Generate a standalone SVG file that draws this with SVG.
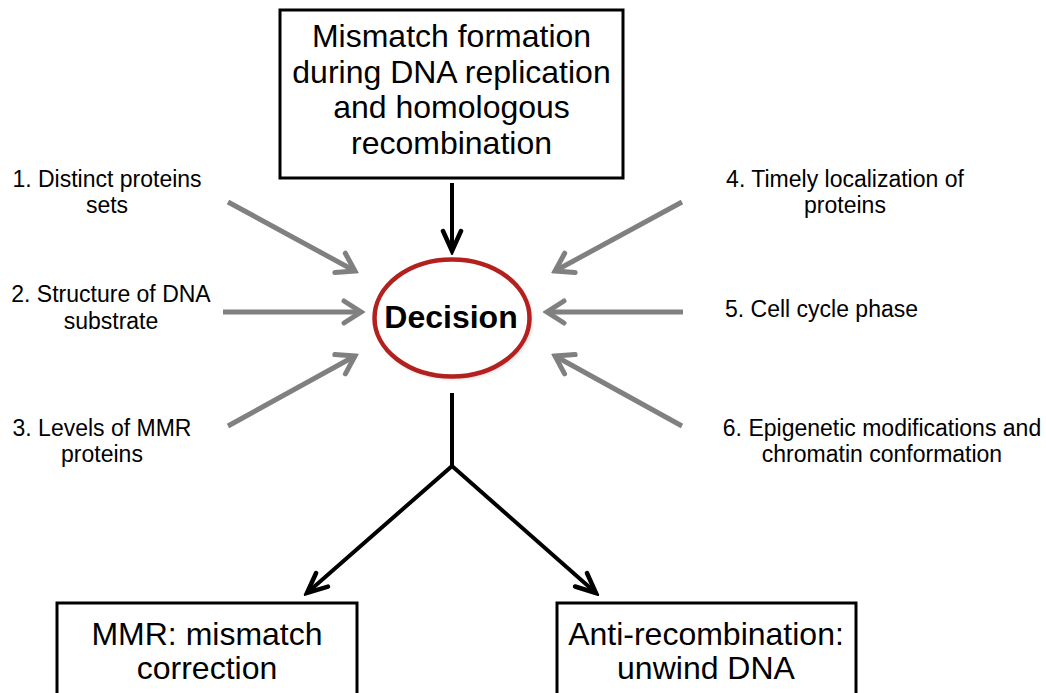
<svg xmlns="http://www.w3.org/2000/svg" width="1046" height="693" viewBox="0 0 1046 693">
<style>
.box{fill:#fff;stroke:#000;stroke-width:3}
.bt{font-family:"Liberation Sans",Arial,sans-serif;font-size:32px;fill:#000;text-anchor:middle}
.lbl{font-family:"Liberation Sans",Arial,sans-serif;font-size:23px;fill:#000;text-anchor:middle}
.blk{stroke:#000;stroke-width:4;fill:none}
.gry{stroke:#808080;stroke-width:5;fill:none}
</style>
<defs>
<marker id="ab" markerUnits="userSpaceOnUse" viewBox="-24 -14 28 28" markerWidth="28" markerHeight="28" refX="0" refY="0" orient="auto">
<path d="M-20,-9 L0,0 L-20,9" fill="none" stroke="#000" stroke-width="4.5" stroke-linejoin="miter" stroke-linecap="round"/>
</marker>
<marker id="ag" markerUnits="userSpaceOnUse" viewBox="-24 -16 28 32" markerWidth="28" markerHeight="32" refX="0" refY="0" orient="auto">
<path d="M-17,-11 L0,0 L-17,11" fill="none" stroke="#808080" stroke-width="5" stroke-linejoin="miter" stroke-linecap="round"/>
</marker>
<filter id="sh" x="-20%" y="-20%" width="140%" height="140%">
<feGaussianBlur stdDeviation="2"/>
</filter>
</defs>
<g id="connectors">
<line class="blk" x1="452" y1="183" x2="452" y2="251" marker-end="url(#ab)"/>
<polyline class="blk" points="452,393 452,466 307,593" marker-end="url(#ab)"/>
<polyline class="blk" points="452,466 596,593" marker-end="url(#ab)"/>
<line class="gry" x1="228" y1="202" x2="355" y2="271" marker-end="url(#ag)"/>
<line class="gry" x1="223" y1="312" x2="361" y2="312" marker-end="url(#ag)"/>
<line class="gry" x1="228" y1="426" x2="355" y2="356" marker-end="url(#ag)"/>
<line class="gry" x1="682" y1="202" x2="555" y2="271" marker-end="url(#ag)"/>
<line class="gry" x1="683" y1="312" x2="547" y2="312" marker-end="url(#ag)"/>
<line class="gry" x1="682" y1="426" x2="555" y2="356" marker-end="url(#ag)"/>
</g>
<g id="top">
<rect class="box" x="280" y="10" width="343" height="168"/>
<text class="bt" x="451.5" y="47">Mismatch formation</text>
<text class="bt" x="451.5" y="82.5">during DNA replication</text>
<text class="bt" x="451.5" y="118">and homologous</text>
<text class="bt" x="451.5" y="153.5">recombination</text>
</g>
<g id="decision">
<ellipse cx="454" cy="320" rx="76" ry="57" fill="none" stroke="#999" stroke-width="3" filter="url(#sh)" opacity="0.6"/>
<ellipse cx="452" cy="318" rx="77.5" ry="58.5" fill="#fff" stroke="#b3211f" stroke-width="4.5"/>
<text x="451" y="328" font-family="'Liberation Sans',Arial,sans-serif" font-size="32" font-weight="bold" text-anchor="middle">Decision</text>
</g>
<g id="f1"><text class="lbl" x="107" y="187">1. Distinct proteins</text><text class="lbl" x="107" y="213">sets</text></g>
<g id="f2"><text class="lbl" x="111" y="302">2. Structure of DNA</text><text class="lbl" x="111" y="329">substrate</text></g>
<g id="f3"><text class="lbl" x="102" y="436">3. Levels of MMR</text><text class="lbl" x="102" y="462">proteins</text></g>
<g id="f4"><text class="lbl" x="845" y="187">4. Timely localization of</text><text class="lbl" x="845" y="213">proteins</text></g>
<g id="f5"><text class="lbl" x="725" y="317" style="text-anchor:start">5. Cell cycle phase</text></g>
<g id="f6"><text class="lbl" x="882" y="436">6. Epigenetic modifications and</text><text class="lbl" x="882" y="462">chromatin conformation</text></g>
<g id="mmr">
<rect class="box" x="57" y="603" width="300" height="110"/>
<text class="bt" x="207" y="645">MMR: mismatch</text>
<text class="bt" x="207" y="679">correction</text>
</g>
<g id="anti">
<rect class="box" x="557" y="603" width="299" height="110"/>
<text class="bt" x="706" y="645">Anti-recombination:</text>
<text class="bt" x="706" y="679">unwind DNA</text>
</g>
</svg>
